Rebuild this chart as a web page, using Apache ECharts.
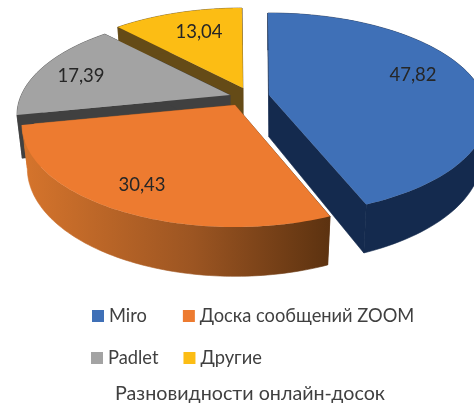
<!DOCTYPE html>
<html>
<head>
<meta charset="utf-8">
<style>
    html, body { margin: 0; padding: 0; background: #fff; }
    #chart { width: 474px; height: 403px; }
</style>
<script src="https://cdn.jsdelivr.net/npm/echarts@6/dist/echarts.min.js"></script>
</head>
<body>
<div id="chart"></div>
<script>
const categories = ['Miro', 'Доска сообщений ZOOM', 'Padlet', 'Другие']
const shares = [47.82, 30.43, 17.39, 13.04]

const font = 'Lato, "Noto Sans", sans-serif'
const topColors = ['#3f70b7', '#ed7b30', '#a3a3a3', '#fcbd14']
const wallColors = [
    '#142a4e',
    {
        type: 'linear', x: 25, y: 0, x2: 330, y2: 0, global: true,
        colorStops: [
            { offset: 0, color: '#d5742c' },
            { offset: 0.55, color: '#9c5522' },
            { offset: 1, color: '#5c3210' }
        ]
    },
    '#404040',
    '#654b17'
]
// apex of each wedge on the page, the explosion of the original
const apexes = [[269, 95], [235, 105], [230, 95], [243, 88]]
const radiusX = [218, 213, 213, 213]
const radiusY = [101, 102, 100, 100]
const rimY = [19, 20, 20, 20]
const labelSpots = [[413, 75], [142, 185], [81, 76], [199, 32]]

// the tilted view squeezes angles unevenly: true sweep -> drawn sweep
const viewAngles = [[0, -0.3], [158.4, 153.5], [259.2, 270], [316.8, 324], [360, 359.7]]
const viewAngle = (deg) => {
    for (let i = 1; i < viewAngles.length; i++) {
        const [a0, b0] = viewAngles[i - 1]
        const [a1, b1] = viewAngles[i]
        if (deg <= a1) return b0 + (b1 - b0) * (deg - a0) / (a1 - a0)
    }
    return deg
}

const total = shares.reduce((sum, v) => sum + v, 0)
const startOf = (index) => shares.slice(0, index).reduce((sum, v) => sum + v, 0) / total * 360

const wallDepth = (dy) => 42 + 0.06 * dy

const polygon = (points, fill, z2, stroke) => ({
    type: 'polygon',
    z2: z2,
    shape: { points: points },
    style: stroke ? { fill: fill, stroke: fill, lineWidth: 0.6 } : { fill: fill }
})

const makeRender = (index) => (params, api) => {
    const [ax, ay] = apexes[index]
    const from = viewAngle(startOf(index))
    const to = viewAngle(startOf(index) + api.value(0) / total * 360)

    const top = (dx, dy) => [ax + dx, ay + dy]
    const bottom = (dx, dy) => [ax + dx * 0.975, ay + dy + wallDepth(dy)]

    const rim = []
    for (let i = 0; i <= 80; i++) {
        const t = (from + (to - from) * i / 80) * Math.PI / 180
        rim.push([radiusX[index] * Math.sin(t), rimY[index] - radiusY[index] * Math.cos(t)])
    }
    const first = rim[0]
    const last = rim[rim.length - 1]

    const children = [
        polygon([top(0, 0), top(...first), bottom(...first), bottom(0, 0)], wallColors[index], 1, true),
        polygon([top(0, 0), top(...last), bottom(...last), bottom(0, 0)], wallColors[index], 1, true),
        polygon(
            rim.map((p) => top(...p)).concat(rim.slice().reverse().map((p) => bottom(...p))),
            wallColors[index],
            2,
            true
        ),
        polygon([top(0, 0)].concat(rim.map((p) => top(...p))), topColors[index], 3),
        {
            type: 'text',
            z2: 4,
            style: {
                x: labelSpots[index][0],
                y: labelSpots[index][1],
                text: api.value(0).toFixed(2).replace('.', ','),
                fill: '#262626',
                font: '18.5px ' + font,
                align: 'center',
                verticalAlign: 'middle'
            }
        }
    ]
    return { type: 'group', children: children }
}

// drawn back to front: the yellow wedge first, blue last
const drawOrder = [3, 2, 1, 0]

const legendText = { color: '#404040', fontSize: 18.3, fontFamily: font }

const myChart = echarts.init(document.getElementById('chart'))
myChart.setOption({
    animation: false,
    title: {
        text: 'Разновидности онлайн-досок',
        left: 245,
        textAlign: 'center',
        top: 378,
        textStyle: { color: '#404040', fontSize: 19.7, fontWeight: 'normal', fontFamily: font, lineHeight: 22 }
    },
    legend: [
        {
            data: [categories[0], categories[1]],
            left: 92, top: 307, padding: 0, itemGap: 36,
            icon: 'rect', itemWidth: 12, itemHeight: 12,
            textStyle: legendText
        },
        {
            data: [categories[2], categories[3]],
            left: 91, top: 349, padding: 0, itemGap: 25,
            icon: 'rect', itemWidth: 12, itemHeight: 12,
            textStyle: legendText
        }
    ],
    series: drawOrder.map((index) => ({
        name: categories[index],
        type: 'custom',
        coordinateSystem: 'none',
        silent: true,
        itemStyle: { color: topColors[index] },
        data: [[shares[index]]],
        renderItem: makeRender(index)
    }))
})
</script>
</body>
</html>
